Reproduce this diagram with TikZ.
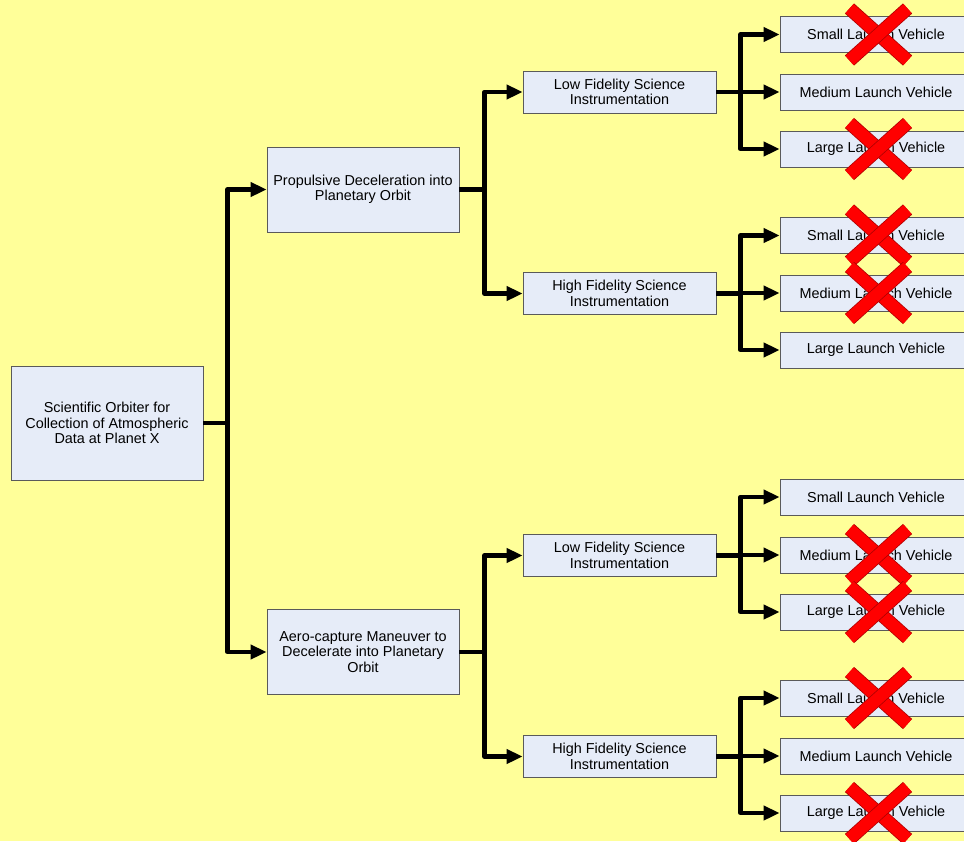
\documentclass[tikz,border=0pt]{standalone}
\usepackage{fontspec}
\setmainfont{Liberation Sans}
\usetikzlibrary{arrows.meta,positioning}
\definecolor{bgyellow}{HTML}{FFFF99}
\definecolor{boxfill}{HTML}{E6ECF8}
\definecolor{boxline}{HTML}{5A5A5A}
\definecolor{xred}{HTML}{FF0000}
\definecolor{xline}{HTML}{B00000}
% red cross over a ruled-out option
\newcommand{\nogo}[1]{%
  \begin{scope}[shift={(#1)},xshift=2.5pt]
    \draw[cross] (-29,-26) -- (29,26);
    \draw[cross] (-29,26) -- (29,-26);
  \end{scope}}

\begin{document}
\begin{tikzpicture}[x=1pt,y=-1pt,>={Triangle[length=16pt,width=14pt]},
  box/.style={draw=boxline,line width=0.8pt,fill=boxfill,align=center,
    inner sep=0pt,font=\fontsize{14.4}{15.5}\selectfont},
  bigbox/.style={box,minimum width=192pt,minimum height=85pt},
  subbox/.style={box,minimum width=193pt,minimum height=42pt},
  leaf/.style={box,minimum width=192pt,minimum height=36pt},
  conn/.style={->,line width=4.2pt,line join=round},
  cross/.style={draw=xline,line width=0.8pt,double=xred,double distance=12pt}]
\useasboundingbox (0,0) rectangle (964,841);
\fill[bgyellow] (0,0) rectangle (964,841);
%%
  % Node: root
  \node[box,minimum width=192pt,minimum height=114pt] (root) at (107,423)
    {Scientific Orbiter for\\Collection of Atmospheric\\Data at Planet X};
  % Node: prop, aero
  \node[bigbox] (prop) at (363,189.5) {Propulsive Deceleration into\\Planetary Orbit};
  \node[bigbox] (aero) at (363,652) {Aero-capture Maneuver to\\Decelerate into Planetary\\Orbit};
  % Node: instrumentation
  \node[subbox] (pLow) at (619.5,92) {Low Fidelity Science\\Instrumentation};
  \node[subbox] (pHigh) at (619.5,293.5) {High Fidelity Science\\Instrumentation};
  \node[subbox] (aLow) at (619.5,555.5) {Low Fidelity Science\\Instrumentation};
  \node[subbox] (aHigh) at (619.5,756.5) {High Fidelity Science\\Instrumentation};
  % Node: launch vehicles
  \node[leaf] (pLowS) at (876,34.5) {Small Launch Vehicle};
  \node[leaf] (pLowM) at (876,92) {Medium Launch Vehicle};
  \node[leaf] (pLowL) at (876,149) {Large Launch Vehicle};
  \node[leaf] (pHighS) at (876,235.5) {Small Launch Vehicle};
  \node[leaf] (pHighM) at (876,293) {Medium Launch Vehicle};
  \node[leaf] (pHighL) at (876,350) {Large Launch Vehicle};
  \node[leaf] (aLowS) at (876,497) {Small Launch Vehicle};
  \node[leaf] (aLowM) at (876,555) {Medium Launch Vehicle};
  \node[leaf] (aLowL) at (876,612) {Large Launch Vehicle};
  \node[leaf] (aHighS) at (876,698) {Small Launch Vehicle};
  \node[leaf] (aHighM) at (876,756) {Medium Launch Vehicle};
  \node[leaf] (aHighL) at (876,813) {Large Launch Vehicle};
  % Edge: root -> prop, aero
  \draw[conn] (root.east) -- ++(24,0) |- (prop.west);
  \draw[conn] (root.east) -- ++(24,0) |- (aero.west);
  % Edge: prop -> pLow, pHigh
  \draw[conn] (prop.east) -- ++(25,0) |- (pLow.west);
  \draw[conn] (prop.east) -- ++(25,0) |- (pHigh.west);
  % Edge: aero -> aLow, aHigh
  \draw[conn] (aero.east) -- ++(25,0) |- (aLow.west);
  \draw[conn] (aero.east) -- ++(25,0) |- (aHigh.west);
  % Edge: instrumentation -> launch vehicles
  \foreach \src in {pLow,pHigh,aLow,aHigh}{
    \foreach \sz in {S,M,L}
      \draw[conn] (\src.east) -- ++(24,0) |- (\src\sz.west);
  }
  % ruled-out options
  \nogo{pLowS}
  \nogo{pLowL}
  \nogo{pHighS}
  \nogo{pHighM}
  \nogo{aLowM}
  \nogo{aLowL}
  \nogo{aHighS}
  \nogo{aHighL}
%
\end{tikzpicture}
\end{document}
